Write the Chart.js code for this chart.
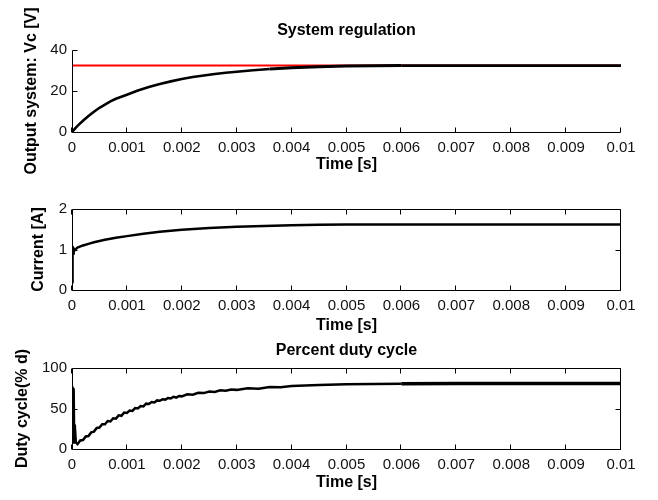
<!DOCTYPE html>
<html>
<head>
<meta charset="utf-8">
<script src="https://cdn.jsdelivr.net/npm/chart.js@4.4.0/dist/chart.umd.min.js"></script>
<style>
html, body { margin: 0; padding: 0; background: #fff; }
body { width: 658px; height: 500px; position: relative; overflow: hidden; }
canvas { position: absolute; left: 0; }
</style>
</head>
<body>
<canvas id="vcChart" width="658" height="175" style="top:0px"></canvas>
<canvas id="iChart" width="658" height="162" style="top:175px"></canvas>
<canvas id="dutyChart" width="658" height="163" style="top:337px"></canvas>
<script>
// shared time axis
const timeTicks = [0, 0.001, 0.002, 0.003, 0.004, 0.005, 0.006, 0.007, 0.008, 0.009, 0.01];
const timeTickLabels = ['0', '0.001', '0.002', '0.003', '0.004', '0.005', '0.006', '0.007', '0.008', '0.009', '0.01'];

// output voltage Vc [V]
const vcTime = [0, 0.00005, 0.0001, 0.0002, 0.0003, 0.0004, 0.0005, 0.0006, 0.0007, 0.0008, 0.0009, 0.001,
  0.0012, 0.0014, 0.0016, 0.0018, 0.002, 0.0022, 0.0024, 0.0026, 0.0028, 0.003, 0.0033, 0.0036,
  0.004, 0.0045, 0.005, 0.0055, 0.006, 0.007, 0.008, 0.009, 0.01];
const vcValues = [0, 1.5, 3.0, 5.5, 7.8, 9.9, 11.8, 13.4, 14.9, 16.2, 17.2, 18.2,
  20.2, 21.9, 23.4, 24.7, 25.9, 26.8, 27.6, 28.3, 28.9, 29.4, 30.1, 30.7,
  31.3, 31.8, 32.2, 32.3, 32.4, 32.4, 32.4, 32.4, 32.4];
const setpointTime = [0, 0.01];
const setpointValues = [32.4, 32.4];
const vcTicks = [0, 20, 40];

// inductor current [A]
const iTime = [0, 0.00001, 0.00002, 0.00003, 0.00005, 0.0001, 0.0002, 0.0003, 0.0004, 0.0006, 0.0008, 0.001,
  0.0013, 0.0016, 0.002, 0.0025, 0.003, 0.0035, 0.004, 0.0045, 0.005, 0.006, 0.007, 0.008, 0.009, 0.01];
const iValues = [0.2, 1.05, 0.9, 1.02, 0.98, 1.05, 1.1, 1.14, 1.18, 1.24, 1.29, 1.33,
  1.39, 1.44, 1.49, 1.53, 1.56, 1.58, 1.6, 1.61, 1.62, 1.62, 1.62, 1.62, 1.62, 1.62];
const iTicks = [0, 1, 2];

// duty cycle [%], with the switching ripple
const dutyTime = [0, 0.00001, 0.00002, 0.00003, 0.00004, 0.00005, 0.00007,
  0.0001, 0.00015, 0.0002, 0.00025, 0.0003, 0.00035, 0.0004, 0.00045, 0.0005, 0.00055, 0.0006,
  0.00065, 0.0007, 0.00075, 0.0008, 0.00085, 0.0009, 0.00095, 0.001, 0.00105, 0.0011, 0.00115,
  0.0012, 0.00125, 0.0013, 0.00135, 0.0014, 0.00145, 0.0015, 0.00155, 0.0016, 0.00165, 0.0017,
  0.00175, 0.0018, 0.00185, 0.0019, 0.00195, 0.002, 0.0021, 0.0022, 0.0023, 0.0024, 0.0025,
  0.0026, 0.0027, 0.0028, 0.0029, 0.003, 0.0032, 0.0034, 0.0036, 0.0038, 0.004,
  0.0045, 0.005, 0.006, 0.007, 0.008, 0.009, 0.01];
const dutyValues = [10, 77, 8, 75, 9, 30, 8,
  6, 10.5, 11, 15.5, 16, 20.5, 21.5, 26, 26.5, 30.5, 30.5, 34.5,
  34, 38, 37.5, 41.5, 41, 45, 44.5, 47.5, 47, 50.5, 50, 53, 52.5, 56, 55.5, 58, 57.5, 60, 59.5, 61.5,
  61, 63, 62.5, 64.5, 63.5, 65.5, 65, 67.5, 67, 69.5, 69, 71, 70.5, 72.5, 72, 73.5, 73, 75,
  74.5, 76.5, 76.2, 77.8, 79, 79.8, 80.5, 81, 81, 81, 81];
const dutyTicks = [0, 50, 100];

Chart.defaults.font.family = '"Liberation Sans", Arial, Helvetica, sans-serif';
Chart.defaults.color = '#000';

const toPoints = (xs, ys) => xs.map((x, i) => ({ x: x, y: ys[i] }));

// MATLAB-like frame with inward tick marks
const matlabAxes = {
  id: 'matlabAxes',
  afterDraw(chart, args, opts) {
    const { ctx, chartArea: a, scales } = chart;
    const xs = scales.x, ys = scales.y;
    const L = 5;
    const left = Math.round(a.left) + 0.5, right = Math.round(a.right) - 0.5;
    const top = Math.round(a.top) + 0.5, bottom = Math.round(a.bottom) + 0.5;
    ctx.save();
    ctx.strokeStyle = '#000';
    ctx.lineWidth = 1;
    ctx.beginPath();
    ctx.moveTo(left, top);
    ctx.lineTo(left, bottom);
    ctx.lineTo(right, bottom);
    if (opts.box) {
      ctx.lineTo(right, top);
      ctx.lineTo(left, top);
    }
    xs.ticks.forEach(t => {
      const px = Math.round(xs.getPixelForValue(t.value)) - 0.5;
      ctx.moveTo(px, bottom);
      ctx.lineTo(px, bottom - L);
      if (opts.box) {
        ctx.moveTo(px, top);
        ctx.lineTo(px, top + L);
      }
    });
    ys.ticks.forEach(t => {
      const py = Math.round(ys.getPixelForValue(t.value)) + 0.5;
      ctx.moveTo(left, py);
      ctx.lineTo(left + L, py);
      if (opts.box) {
        ctx.moveTo(right, py);
        ctx.lineTo(right - L, py);
      }
    });
    ctx.stroke();
    ctx.restore();
  }
};

function makePlot(id, o) {
  const padLeft = o.yTitleX - 9.6;
  const xBoxBottom = o.xTitleY + 9.6;
  const cfg = {
    type: 'line',
    data: { datasets: o.datasets },
    options: {
      responsive: false,
      animation: false,
      events: [],
      layout: {
        padding: {
          left: padLeft,
          right: 658 - 621,
          top: o.title ? 0 : o.plotTop,
          bottom: o.height - xBoxBottom
        }
      },
      elements: { point: { radius: 0 }, line: { tension: 0 } },
      scales: {
        x: {
          type: 'linear', min: 0, max: 0.01,
          afterBuildTicks: s => { s.ticks = timeTicks.map(v => ({ value: v })); },
          afterFit: s => { s.height = xBoxBottom - o.plotBottom; },
          grid: { display: false, drawTicks: false },
          border: { display: false },
          ticks: {
            autoSkip: false, maxRotation: 0, padding: 7, color: '#111',
            font: { size: 15 },
            callback: (v, i) => timeTickLabels[i]
          },
          title: { display: true, text: 'Time [s]', padding: 0, font: { size: 16, weight: 'bold' } }
        },
        y: {
          min: o.yTicks[0], max: o.yTicks[o.yTicks.length - 1],
          afterBuildTicks: s => { s.ticks = o.yTicks.map(v => ({ value: v })); },
          afterFit: s => { s.width = 72 - padLeft; },
          grid: { display: false, drawTicks: false },
          border: { display: false },
          ticks: { padding: 5, color: '#111', font: { size: 15 } },
          title: { display: true, text: o.yTitle, padding: 0, font: { size: 16, weight: 'bold' } }
        }
      },
      plugins: {
        legend: { display: false },
        tooltip: { enabled: false },
        title: o.title ? {
          display: true, text: o.title, fullSize: false,
          font: { size: 16, weight: 'bold' }, color: '#000',
          padding: { top: o.titleY - 9.6, bottom: o.plotTop - o.titleY - 9.6 }
        } : { display: false },
        matlabAxes: { box: o.box }
      }
    },
    plugins: [matlabAxes]
  };
  return new Chart(document.getElementById(id), cfg);
}

makePlot('vcChart', {
  height: 175, plotTop: 50, plotBottom: 132, titleY: 31, xTitleY: 165, yTitleX: 32,
  title: 'System regulation', yTitle: 'Output system: Vc [V]', yTicks: vcTicks, box: false,
  datasets: [
    {
      data: toPoints(vcTime, vcValues), borderColor: '#000', borderWidth: 2, order: 0,
      segment: { borderWidth: c => (c.p0.parsed.x >= 0.0036 && c.p0.parsed.x < 0.006 ? 3 : 2.6) }
    },
    { data: toPoints(setpointTime, setpointValues), borderColor: '#ff0000', borderWidth: 2, order: 1 }
  ]
});

makePlot('iChart', {
  height: 162, plotTop: 34, plotBottom: 115, xTitleY: 150.5, yTitleX: 39,
  title: null, yTitle: 'Current [A]', yTicks: iTicks, box: true,
  datasets: [
    { data: toPoints(iTime, iValues), borderColor: '#000', borderWidth: 2.5 }
  ]
});

makePlot('dutyChart', {
  height: 163, plotTop: 31, plotBottom: 112, titleY: 14, xTitleY: 145.5, yTitleX: 22.5,
  title: 'Percent duty cycle', yTitle: 'Duty cycle(% d)', yTicks: dutyTicks, box: true,
  datasets: [
    {
      data: toPoints(dutyTime, dutyValues), borderColor: '#000', borderWidth: 2.5,
      segment: { borderWidth: c => (c.p0.parsed.x >= 0.006 ? 3.5 : 2.5) }
    }
  ]
});
</script>
</body>
</html>
